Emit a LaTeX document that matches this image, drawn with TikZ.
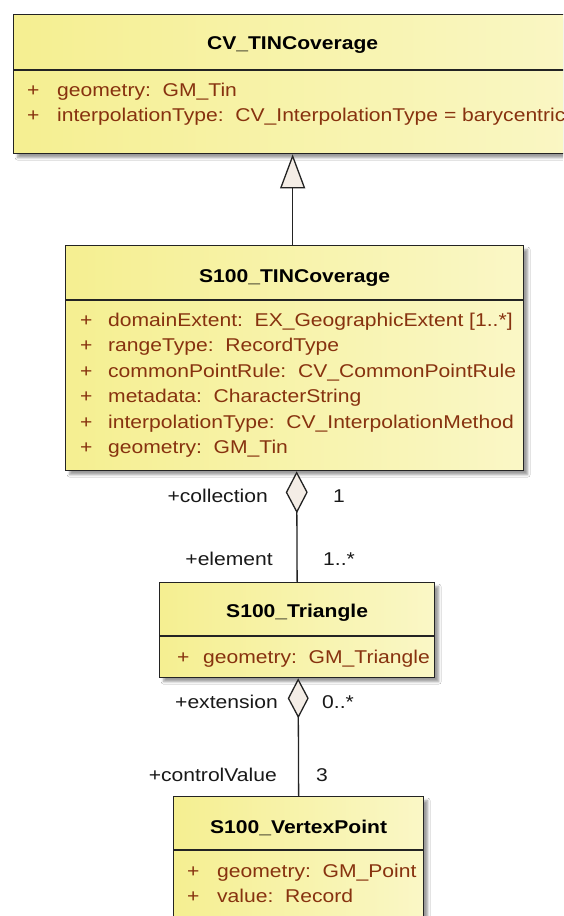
\documentclass[tikz,border=0pt]{standalone}
\usepackage{fontspec}
\newfontfamily\umlfont[FakeStretch=1.14]{Liberation Sans}
\usetikzlibrary{arrows.meta,shadows.blur}
\definecolor{boxL}{RGB}{245,239,145}
\definecolor{boxR}{RGB}{250,247,198}
\definecolor{attrc}{RGB}{135,50,15}
\definecolor{diafill}{RGB}{244,237,230}
\definecolor{edgec}{RGB}{35,35,35}
\begin{document}
\begin{tikzpicture}[x=1pt,y=-1pt,
  classbox/.style={draw=edgec, line width=1.3pt, left color=boxL, right color=boxR,
    inner sep=0pt, anchor=north west,
    blur shadow={shadow xshift=4pt, shadow yshift=-4pt, shadow blur radius=2.5pt, shadow opacity=40}},
  sepline/.style={draw=edgec, line width=1.2pt},
  titletext/.style={font=\umlfont\bfseries\fontsize{18.5}{22}\selectfont, anchor=base, inner sep=0pt, text=black},
  attr/.style={font=\umlfont\fontsize{18.5}{22}\selectfont, text=attrc, anchor=base west, inner sep=0pt},
  lbl/.style={font=\umlfont\fontsize{18.5}{22}\selectfont, text=black!90, inner sep=0pt},
  genline/.style={draw=edgec, line width=1.3pt, -{Triangle[length=34pt,width=25pt,fill=diafill]}},
  aggA/.style={draw=edgec, line width=1.3pt, {Diamond[length=42pt,width=22pt,fill=diafill]}-},
  aggB/.style={draw=edgec, line width=1.3pt, {Diamond[length=40pt,width=21pt,fill=diafill]}-}
]
\useasboundingbox (0,0) rectangle (563,916);
\fill[white] (0,0) rectangle (563,916);
\clip (0,0) rectangle (563,916);

% ---------- class boxes ----------
\node[classbox, minimum width=580pt, minimum height=139pt] (cv) at (13,14) {};
\node[classbox, minimum width=458pt, minimum height=225pt] (tin) at (65,245) {};
\node[classbox, minimum width=275pt, minimum height=95pt] (tri) at (159,582) {};
\node[classbox, minimum width=250pt, minimum height=140pt] (vp) at (173,796) {};

% separators
\draw[sepline] ([yshift=-56pt]cv.north west) -- ([yshift=-56pt]cv.north east);
\draw[sepline] ([yshift=-55pt]tin.north west) -- ([yshift=-55pt]tin.north east);
\draw[sepline] ([yshift=-54pt]tri.north west) -- ([yshift=-54pt]tri.north east);
\draw[sepline] ([yshift=-54pt]vp.north west) -- ([yshift=-54pt]vp.north east);

% titles
\node[titletext] (cvT) at ([xshift=-11pt,yshift=-35pt]cv.north) {CV\_TINCoverage};
\node[titletext] (tinT) at ([yshift=-37pt]tin.north) {S100\_TINCoverage};
\node[titletext] (triT) at ([yshift=-35pt]tri.north) {S100\_Triangle};
\node[titletext] (vpT) at ([yshift=-37pt]vp.north) {S100\_VertexPoint};

% attributes
\foreach \t [count=\i] in {{geometry:~~GM\_Tin},{interpolationType:~~CV\_InterpolationType = barycentric}}{
  \node[attr] (cvP\i) at ([xshift=14pt,yshift={-(82+(\i-1)*25)*1pt}]cv.north west) {+};
  \node[attr] (cvA\i) at ([xshift=44pt,yshift={-(82+(\i-1)*25)*1pt}]cv.north west) {\t};
}
\foreach \t [count=\i] in {{domainExtent:~~EX\_GeographicExtent [1..*]},{rangeType:~~RecordType},{commonPointRule:~~CV\_CommonPointRule},{metadata:~~CharacterString},{interpolationType:~~CV\_InterpolationMethod},{geometry:~~GM\_Tin}}{
  \node[attr] (tinP\i) at ([xshift=15pt,yshift={-(81+(\i-1)*25.5)*1pt}]tin.north west) {+};
  \node[attr] (tinA\i) at ([xshift=43pt,yshift={-(81+(\i-1)*25.5)*1pt}]tin.north west) {\t};
}
\node[attr] (triP1) at ([xshift=18pt,yshift=-81pt]tri.north west) {+};
\node[attr] (triA1) at ([xshift=44pt,yshift=-81pt]tri.north west) {geometry:~~GM\_Triangle};
\foreach \t [count=\i] in {{geometry:~~GM\_Point},{value:~~Record}}{
  \node[attr] (vpP\i) at ([xshift=14pt,yshift={-(81+(\i-1)*25)*1pt}]vp.north west) {+};
  \node[attr] (vpA\i) at ([xshift=44pt,yshift={-(81+(\i-1)*25)*1pt}]vp.north west) {\t};
}

% ---------- connectors ----------
\draw[genline] ([xshift=-2pt]tin.north) -- ([xshift=-11pt]cv.south);
\draw[aggA] ([xshift=2pt]tin.south) -- (tri.north);
\draw[aggB] ([xshift=1pt]tri.south) -- (vp.north);

% ---------- role / multiplicity labels ----------
\node[lbl, anchor=base east] (lcoll) at (268,502) {+collection};
\node[lbl, anchor=base west] (lcollm) at (333,502) {1};
\node[lbl, anchor=base east] (lelem) at (273,565) {+element};
\node[lbl, anchor=base west] (lelemm) at (323,565) {1..*};
\node[lbl, anchor=base east] (lext) at (278,708) {+extension};
\node[lbl, anchor=base west] (lextm) at (322,708) {0..*};
\node[lbl, anchor=base east] (lctrl) at (277,781) {+controlValue};
\node[lbl, anchor=base west] (lctrlm) at (316,781) {3};
\end{tikzpicture}
\end{document}
